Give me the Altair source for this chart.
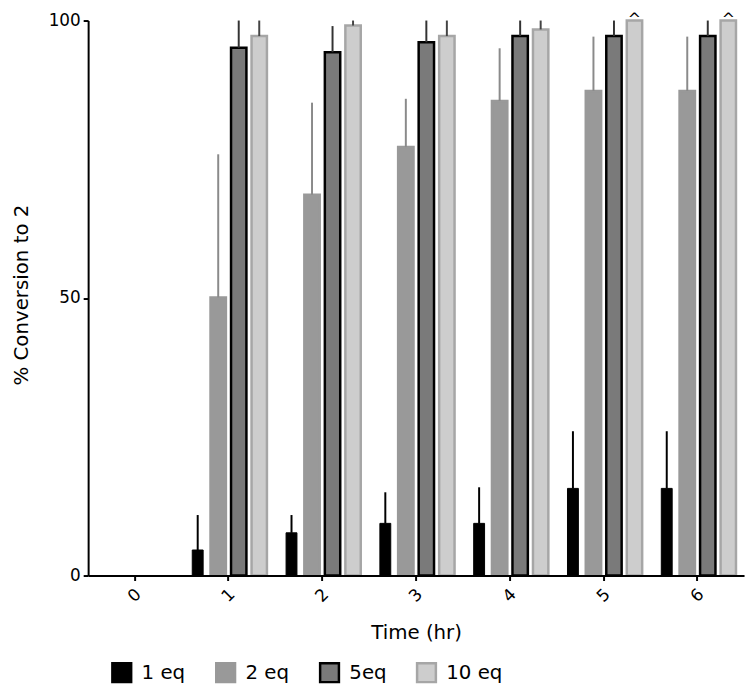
import altair as alt
import pandas as pd

# ---- data ----
times = ["0", "1", "2", "3", "4", "5", "6"]
series = ["1 eq", "2 eq", "5eq", "10 eq"]

eq1 = [0, 4.6, 7.7, 9.4, 9.4, 15.7, 15.7]
eq1_err = [0, 6.3, 3.2, 5.6, 6.5, 10.3, 10.3]
eq2 = [0, 50.1, 68.6, 77.2, 85.5, 87.3, 87.3]
eq2_err = [0, 25.8, 16.6, 8.7, 9.5, 9.8, 9.8]
eq5 = [0, 95.1, 94.3, 96.1, 97.2, 97.2, 97.2]
eq5_err = [0, 5.0, 4.7, 4.0, 3.0, 3.0, 3.0]
eq10 = [0, 97.2, 99.1, 97.2, 98.4, 100, 100]
eq10_err = [0, 3.0, 0.9, 3.0, 1.8, 0, 0]
flag_times = ["5", "6"]  # marked with "^" above the 10 eq bar

values = [eq1, eq2, eq5, eq10]
errors = [eq1_err, eq2_err, eq5_err, eq10_err]

rows = []
for s, vals, errs in zip(series, values, errors):
    for t, v, e in zip(times, vals, errs):
        rows.append({"time": t, "series": s, "value": v, "upper": min(v + e, 100)})
df = pd.DataFrame(rows)

# ---- styles ----
fill_colors = ["#000000", "#999999", "#7a7a7a", "#cdcdcd"]
stroke_colors = ["#000000", "#999999", "#000000", "#a6a6a6"]
err_colors = ["#000000", "#8a8a8a", "#333333", "#444444"]
FONT = "DejaVu Sans"

legend = alt.Legend(
    title=None, orient="none", legendX=23, legendY=648, direction="horizontal",
    symbolType="square", symbolSize=361, symbolStrokeWidth=2.5,
    labelFontSize=20, labelOffset=9, columnPadding=25, labelColor="black",
)

x = alt.X(
    "time:N",
    scale=alt.Scale(domain=times, paddingInner=0.18, paddingOuter=0.086),
    axis=alt.Axis(
        title="Time (hr)", labelAngle=-45, labelAlign="center", labelBaseline="middle",
        labelPadding=15, labelFontSize=17, titleFontSize=20, titleY=58,
        titleBaseline="middle", titleFontWeight="normal", tickSize=5, tickWidth=2,
        domainWidth=2, domainColor="black", tickColor="black", labelColor="black",
        titleColor="black", grid=False, zindex=1,
    ),
)
xoff = alt.XOffset("series:N", scale=alt.Scale(domain=series, paddingInner=0.25))
y = alt.Y(
    "value:Q",
    scale=alt.Scale(domain=[0, 100], nice=False),
    axis=alt.Axis(
        title="% Conversion to 2", values=[0, 50, 100], tickSize=5, tickWidth=2,
        labelPadding=3, labelFontSize=17, titleFontSize=20, titleX=-67, titleY=277,
        titleBaseline="middle", titleAlign="center", titleFontWeight="normal",
        domainWidth=2, domainColor="black", tickColor="black", labelColor="black",
        titleColor="black", grid=False, zindex=1,
    ),
)
fill = alt.Fill("series:N", scale=alt.Scale(domain=series, range=fill_colors), legend=legend)
stroke = alt.Stroke("series:N", scale=alt.Scale(domain=series, range=stroke_colors), legend=legend)

base = alt.Chart(df)

bars_wide = base.transform_filter(
    "datum.series != '1 eq' && datum.value > 0"
).mark_bar(strokeWidth=2.5).encode(x=x, xOffset=xoff, y=y, fill=fill, stroke=stroke)

bars_narrow = base.transform_filter(
    "datum.series == '1 eq' && datum.value > 0"
).mark_bar(width=11, strokeWidth=1).encode(x=x, xOffset=xoff, y=y, fill=fill, stroke=stroke)

# error bars: one layer per series, each with its own fixed colour
err_layers = []
for s, c in zip(series, err_colors):
    err_layers.append(
        base.transform_filter(alt.FieldEqualPredicate(field="series", equal=s))
        .transform_filter("datum.value > 0 && datum.upper > datum.value")
        .mark_rule(strokeWidth=2, color=c)
        .encode(x=x, xOffset=xoff, y=y, y2="upper:Q")
    )

flags = base.transform_filter(
    alt.FieldOneOfPredicate(field="time", oneOf=flag_times)
).transform_filter(
    "datum.series == '10 eq'"
).mark_text(text="^", fontSize=16, dy=4, baseline="alphabetic", font=FONT, color="black").encode(
    x=x, xOffset=xoff, y=y
)

chart = alt.layer(bars_wide, bars_narrow, *err_layers, flags).properties(
    width=663, height=561,
    autosize=alt.AutoSizeParams(type="none"),
    padding={"left": 81, "top": 9, "right": 4, "bottom": 109},
).configure_view(stroke=None).configure_axis(
    labelFont=FONT, titleFont=FONT
).configure_legend(labelFont=FONT)

chart.save("out.html", embed_options={"renderer": "svg", "actions": False})
